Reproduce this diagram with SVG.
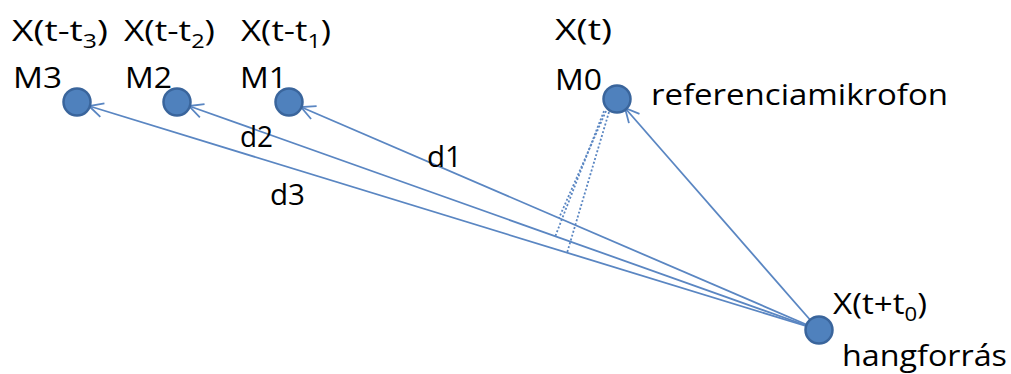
<svg xmlns="http://www.w3.org/2000/svg" width="1011" height="374" viewBox="0 0 1011 374">
<style>
text{font-family:"Open Sans","Liberation Sans",Arial,sans-serif;font-size:30px;fill:#000}
.sub{font-size:20px}
.ln{stroke:#5a86c2;stroke-width:1.8;fill:none}
.dot{stroke:#5a86c2;stroke-width:1.8;fill:none;stroke-dasharray:2 2}
.nd{fill:#4f81bd;stroke:#3a659c;stroke-width:2.5}
</style>
<defs>
<marker id="ah" viewBox="0 0 16 16" refX="15" refY="8" markerWidth="16" markerHeight="16" markerUnits="userSpaceOnUse" orient="auto">
<path d="M1,1 L15,8 L1,15" fill="none" stroke="#5a86c2" stroke-width="1.8"/>
</marker>
</defs>
<rect width="1011" height="374" fill="#fff"/>
<g id="connectors">
<line class="ln" x1="819" y1="330" x2="301" y2="107" marker-end="url(#ah)"/>
<line class="ln" x1="819" y1="330" x2="189" y2="106" marker-end="url(#ah)"/>
<line class="ln" x1="819" y1="330" x2="89" y2="106" marker-end="url(#ah)"/>
<line class="ln" x1="819" y1="330" x2="625" y2="108" marker-end="url(#ah)"/>
<line class="dot" x1="606" y1="111" x2="559" y2="218"/>
<line class="dot" x1="604" y1="111" x2="555" y2="237"/>
<line class="dot" x1="609" y1="112" x2="567" y2="253"/>
<text x="427" y="167" textLength="35" lengthAdjust="spacingAndGlyphs">d1</text>
<text x="240" y="147" textLength="33" lengthAdjust="spacingAndGlyphs">d2</text>
<text x="270" y="205" textLength="35" lengthAdjust="spacingAndGlyphs">d3</text>
</g>
<g id="M3">
<circle class="nd" cx="77" cy="102" r="13.5"/>
<text x="12" y="41" textLength="96" lengthAdjust="spacingAndGlyphs">X(t-t<tspan class="sub" dy="7">3</tspan><tspan dy="-7">)</tspan></text>
<text x="13" y="88" textLength="49" lengthAdjust="spacingAndGlyphs">M3</text>
</g>
<g id="M2">
<circle class="nd" cx="177" cy="102" r="13.5"/>
<text x="124" y="41" textLength="91" lengthAdjust="spacingAndGlyphs">X(t-t<tspan class="sub" dy="7">2</tspan><tspan dy="-7">)</tspan></text>
<text x="125" y="88" textLength="47" lengthAdjust="spacingAndGlyphs">M2</text>
</g>
<g id="M1">
<circle class="nd" cx="289" cy="102" r="13.5"/>
<text x="241" y="41" textLength="90" lengthAdjust="spacingAndGlyphs">X(t-t<tspan class="sub" dy="7">1</tspan><tspan dy="-7">)</tspan></text>
<text x="240" y="88" textLength="47" lengthAdjust="spacingAndGlyphs">M1</text>
</g>
<g id="M0">
<circle class="nd" cx="617" cy="99" r="13.5"/>
<text x="555" y="40" textLength="57" lengthAdjust="spacingAndGlyphs">X(t)</text>
<text x="555" y="90" textLength="47" lengthAdjust="spacingAndGlyphs">M0</text>
<text x="651" y="105" textLength="297" lengthAdjust="spacingAndGlyphs">referenciamikrofon</text>
</g>
<g id="source">
<circle class="nd" cx="819" cy="330" r="13.5"/>
<text x="833" y="314" textLength="94" lengthAdjust="spacingAndGlyphs">X(t+t<tspan class="sub" dy="7">0</tspan><tspan dy="-7">)</tspan></text>
<text x="842" y="366" textLength="165" lengthAdjust="spacingAndGlyphs">hangforrás</text>
</g>
</svg>
